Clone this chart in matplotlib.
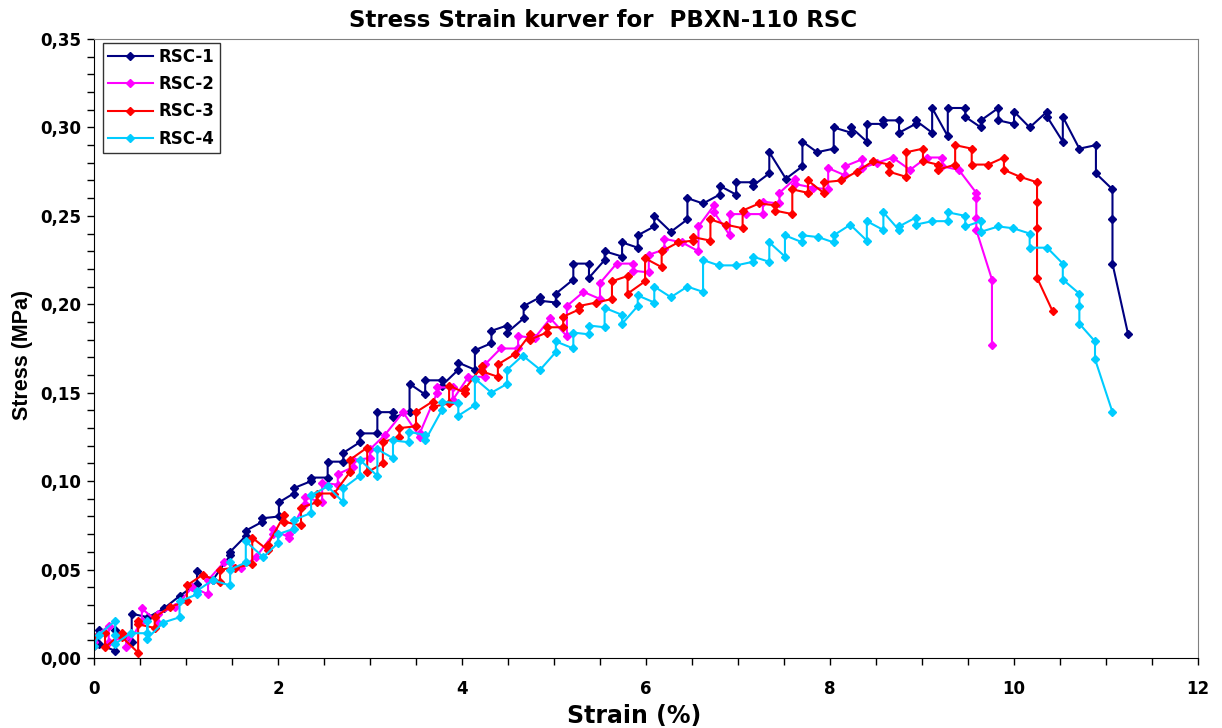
import matplotlib
matplotlib.use("Agg")
import matplotlib.pyplot as plt
from matplotlib.ticker import FuncFormatter, MultipleLocator

plt.rcParams["font.family"] = ["DejaVu Sans"]
plt.rcParams["font.weight"] = "bold"

# RSC-1
rsc1_strain = [0.0, 0.05, 0.05, 0.23, 0.23, 0.41, 0.41, 0.59, 0.76, 0.93, 1.12, 1.12, 1.29, 1.48, 1.48,
               1.65, 1.65, 1.83, 1.83, 2.01, 2.01, 2.17, 2.17, 2.36, 2.36, 2.54, 2.54, 2.71, 2.71, 2.89,
               2.89, 3.08, 3.08, 3.25, 3.25, 3.43, 3.43, 3.60, 3.60, 3.78, 3.78, 3.96, 3.96, 4.14, 4.14,
               4.32, 4.32, 4.49, 4.49, 4.67, 4.67, 4.85, 4.85, 5.02, 5.02, 5.21, 5.21, 5.38, 5.38, 5.55,
               5.55, 5.74, 5.74, 5.91, 5.91, 6.09, 6.09, 6.27, 6.45, 6.45, 6.62, 6.80, 6.80, 6.98, 6.98,
               7.16, 7.16, 7.34, 7.34, 7.52, 7.70, 7.70, 7.86, 8.04, 8.04, 8.23, 8.23, 8.40, 8.40, 8.58,
               8.58, 8.75, 8.75, 8.93, 8.93, 9.11, 9.11, 9.28, 9.28, 9.47, 9.47, 9.64, 9.64, 9.83, 9.83,
               10.0, 10.0, 10.17, 10.36, 10.36, 10.53, 10.53, 10.71, 10.89, 10.89, 11.07, 11.07, 11.07, 11.24]
rsc1_stress = [0.009, 0.016, 0.008, 0.004, 0.016, 0.009, 0.025, 0.023, 0.028, 0.035, 0.042, 0.049, 0.044, 0.058, 0.060,
               0.069, 0.072, 0.077, 0.079, 0.080, 0.088, 0.093, 0.096, 0.100, 0.102, 0.102, 0.111, 0.111, 0.116, 0.122,
               0.127, 0.127, 0.139, 0.139, 0.136, 0.139, 0.155, 0.149, 0.157, 0.157, 0.154, 0.163, 0.167, 0.163, 0.174,
               0.178, 0.185, 0.188, 0.184, 0.192, 0.199, 0.204, 0.202, 0.201, 0.206, 0.214, 0.223, 0.223, 0.215, 0.225,
               0.230, 0.227, 0.235, 0.232, 0.239, 0.244, 0.250, 0.241, 0.248, 0.260, 0.257, 0.262, 0.267, 0.262, 0.269,
               0.269, 0.267, 0.274, 0.286, 0.271, 0.278, 0.292, 0.286, 0.288, 0.300, 0.297, 0.300, 0.292, 0.302, 0.302,
               0.304, 0.304, 0.297, 0.302, 0.304, 0.297, 0.311, 0.295, 0.311, 0.311, 0.306, 0.300, 0.304, 0.311, 0.304,
               0.302, 0.309, 0.300, 0.309, 0.306, 0.292, 0.306, 0.288, 0.290, 0.274, 0.265, 0.248, 0.223, 0.183]

# RSC-2
rsc2_strain = [0.0, 0.0, 0.16, 0.16, 0.35, 0.35, 0.52, 0.52, 0.70, 0.70, 0.88, 1.07, 1.24, 1.24, 1.41,
               1.60, 1.76, 1.95, 1.95, 2.12, 2.12, 2.29, 2.29, 2.48, 2.48, 2.65, 2.65, 2.82, 2.82, 3.0,
               3.0, 3.16, 3.36, 3.54, 3.54, 3.73, 3.73, 3.90, 3.90, 4.07, 4.25, 4.25, 4.42, 4.61, 4.61,
               4.79, 4.96, 5.14, 5.14, 5.32, 5.50, 5.50, 5.68, 5.86, 5.86, 6.03, 6.03, 6.20, 6.20, 6.39,
               6.57, 6.57, 6.74, 6.74, 6.91, 6.91, 7.09, 7.27, 7.27, 7.45, 7.45, 7.62, 7.62, 7.81, 7.98,
               7.98, 8.16, 8.16, 8.35, 8.35, 8.51, 8.68, 8.87, 9.05, 9.22, 9.22, 9.40, 9.59, 9.59, 9.59,
               9.59, 9.76, 9.76]
rsc2_stress = [0.009, 0.012, 0.018, 0.009, 0.012, 0.006, 0.021, 0.028, 0.020, 0.025, 0.029, 0.040, 0.036, 0.044, 0.054,
               0.051, 0.057, 0.070, 0.073, 0.068, 0.070, 0.087, 0.091, 0.088, 0.099, 0.098, 0.104, 0.108, 0.112, 0.113,
               0.118, 0.126, 0.139, 0.125, 0.127, 0.150, 0.153, 0.153, 0.146, 0.159, 0.159, 0.166, 0.175, 0.175, 0.182,
               0.181, 0.192, 0.182, 0.199, 0.207, 0.203, 0.212, 0.223, 0.223, 0.219, 0.218, 0.228, 0.231, 0.237, 0.235,
               0.230, 0.244, 0.256, 0.252, 0.239, 0.251, 0.251, 0.251, 0.258, 0.257, 0.263, 0.271, 0.268, 0.266, 0.265,
               0.277, 0.273, 0.278, 0.282, 0.277, 0.280, 0.283, 0.276, 0.283, 0.283, 0.278, 0.276, 0.263, 0.260, 0.249,
               0.242, 0.214, 0.177]

# RSC-3
rsc3_strain = [0.0, 0.0, 0.12, 0.12, 0.30, 0.30, 0.48, 0.48, 0.48, 0.66, 0.66, 0.83, 1.01, 1.01, 1.18,
               1.37, 1.37, 1.53, 1.72, 1.72, 1.89, 1.89, 2.07, 2.07, 2.25, 2.25, 2.42, 2.42, 2.61, 2.78,
               2.78, 2.97, 2.97, 3.14, 3.14, 3.32, 3.32, 3.50, 3.50, 3.68, 3.68, 3.86, 3.86, 4.03, 4.03,
               4.22, 4.22, 4.39, 4.39, 4.58, 4.74, 4.74, 4.92, 4.92, 5.10, 5.10, 5.27, 5.27, 5.46, 5.63,
               5.63, 5.80, 5.80, 5.99, 5.99, 6.17, 6.17, 6.35, 6.51, 6.51, 6.70, 6.70, 6.87, 7.05, 7.05,
               7.23, 7.40, 7.40, 7.59, 7.59, 7.76, 7.76, 7.93, 7.93, 8.12, 8.29, 8.47, 8.64, 8.64, 8.83,
               8.83, 9.01, 9.01, 9.17, 9.17, 9.36, 9.36, 9.54, 9.54, 9.72, 9.89, 9.89, 10.07, 10.25, 10.25,
               10.25, 10.25, 10.42]
rsc3_stress = [0.007, 0.012, 0.014, 0.006, 0.014, 0.012, 0.003, 0.021, 0.019, 0.017, 0.023, 0.029, 0.032, 0.041, 0.047,
               0.043, 0.050, 0.051, 0.053, 0.068, 0.061, 0.064, 0.081, 0.077, 0.075, 0.085, 0.088, 0.093, 0.093, 0.105,
               0.112, 0.119, 0.105, 0.110, 0.122, 0.125, 0.130, 0.131, 0.139, 0.145, 0.142, 0.144, 0.154, 0.150, 0.152,
               0.165, 0.162, 0.159, 0.166, 0.172, 0.183, 0.180, 0.184, 0.187, 0.187, 0.193, 0.197, 0.199, 0.201, 0.203,
               0.213, 0.216, 0.206, 0.213, 0.226, 0.221, 0.230, 0.235, 0.236, 0.238, 0.236, 0.248, 0.245, 0.243, 0.253,
               0.257, 0.256, 0.253, 0.251, 0.265, 0.263, 0.270, 0.263, 0.269, 0.270, 0.275, 0.281, 0.279, 0.275, 0.272,
               0.286, 0.288, 0.281, 0.279, 0.276, 0.279, 0.290, 0.288, 0.279, 0.279, 0.283, 0.276, 0.272, 0.269, 0.258,
               0.243, 0.215, 0.196]

# RSC-4
rsc4_strain = [0.0, 0.05, 0.23, 0.23, 0.23, 0.40, 0.58, 0.58, 0.58, 0.75, 0.93, 0.93, 1.12, 1.12, 1.29,
               1.48, 1.48, 1.48, 1.65, 1.65, 1.84, 2.00, 2.00, 2.17, 2.17, 2.36, 2.36, 2.54, 2.71, 2.71,
               2.89, 2.89, 3.08, 3.08, 3.25, 3.25, 3.42, 3.42, 3.60, 3.60, 3.78, 3.78, 3.96, 3.96, 4.14,
               4.14, 4.32, 4.49, 4.49, 4.66, 4.85, 5.02, 5.02, 5.21, 5.21, 5.38, 5.38, 5.55, 5.55, 5.74,
               5.74, 5.91, 5.91, 6.09, 6.09, 6.27, 6.45, 6.62, 6.62, 6.79, 6.98, 7.16, 7.16, 7.34, 7.34,
               7.51, 7.51, 7.70, 7.70, 7.87, 8.04, 8.04, 8.22, 8.40, 8.40, 8.58, 8.58, 8.75, 8.75, 8.93,
               8.93, 9.11, 9.28, 9.28, 9.47, 9.47, 9.64, 9.64, 9.83, 9.99, 10.17, 10.17, 10.36, 10.53, 10.53,
               10.71, 10.71, 10.71, 10.88, 10.88, 11.07]
rsc4_stress = [0.007, 0.013, 0.021, 0.013, 0.008, 0.014, 0.014, 0.021, 0.011, 0.020, 0.023, 0.032, 0.036, 0.038, 0.044,
               0.041, 0.054, 0.050, 0.054, 0.066, 0.057, 0.065, 0.070, 0.073, 0.078, 0.082, 0.092, 0.097, 0.088, 0.096,
               0.103, 0.112, 0.103, 0.118, 0.113, 0.123, 0.122, 0.128, 0.126, 0.123, 0.140, 0.145, 0.144, 0.137, 0.143,
               0.158, 0.150, 0.155, 0.163, 0.171, 0.163, 0.173, 0.179, 0.175, 0.184, 0.183, 0.188, 0.187, 0.198, 0.194,
               0.189, 0.199, 0.205, 0.201, 0.210, 0.204, 0.210, 0.207, 0.225, 0.222, 0.222, 0.224, 0.227, 0.224, 0.235,
               0.227, 0.239, 0.235, 0.239, 0.238, 0.235, 0.239, 0.245, 0.236, 0.247, 0.242, 0.252, 0.242, 0.244, 0.249,
               0.245, 0.247, 0.247, 0.252, 0.250, 0.244, 0.247, 0.241, 0.244, 0.243, 0.240, 0.232, 0.232, 0.223, 0.214,
               0.206, 0.199, 0.189, 0.179, 0.169, 0.139]

series = [
    ("RSC-1", rsc1_strain, rsc1_stress, "#000080"),
    ("RSC-2", rsc2_strain, rsc2_stress, "#FF00FF"),
    ("RSC-3", rsc3_strain, rsc3_stress, "#FF0000"),
    ("RSC-4", rsc4_strain, rsc4_stress, "#00CCFF"),
]

fig = plt.figure(figsize=(12.22, 7.28), dpi=100)
ax = fig.add_axes([0.0769, 0.0962, 0.9035, 0.8502])

for name, xs, ys, col in series:
    ax.plot(xs, ys, color=col, linewidth=1.5, marker="D", markersize=4,
            markerfacecolor=col, markeredgecolor=col, label=name)

ax.set_xlim(0, 12)
ax.set_ylim(0, 0.35)
ax.xaxis.set_major_locator(MultipleLocator(2))
ax.xaxis.set_minor_locator(MultipleLocator(0.5))
ax.yaxis.set_major_locator(MultipleLocator(0.05))
ax.yaxis.set_minor_locator(MultipleLocator(0.01))
ax.yaxis.set_major_formatter(FuncFormatter(lambda v, p: f"{v:.2f}".replace(".", ",")))
ax.tick_params(which="both", direction="out", length=5, width=1, labelsize=12)
ax.tick_params(axis="x", which="major", pad=11)
ax.tick_params(axis="y", which="major", pad=4)
for lab in ax.get_xticklabels() + ax.get_yticklabels():
    lab.set_fontweight("bold")

for s in ["top", "right"]:
    ax.spines[s].set_color("#808080")
for s in ["left", "bottom"]:
    ax.spines[s].set_color("black")

ax.set_xlabel("Strain (%)", fontsize=17, fontweight="bold")
ax.set_ylabel("Stress (MPa)", fontsize=15.5, fontweight="bold", family="Liberation Sans")
ax.xaxis.set_label_coords(0.489, -0.075)
ax.yaxis.set_label_coords(-0.055, 0.49)
fig.text(0.4935, 0.972, "Stress Strain kurver for  PBXN-110 RSC", ha="center", va="center",
         fontsize=16.5, fontweight="bold")

leg = ax.legend(loc="upper left", bbox_to_anchor=(0.008, 0.9935), borderaxespad=0, fontsize=12,
                frameon=True, fancybox=False, edgecolor="black", handlelength=2.7,
                handletextpad=0.35, borderpad=0.3, labelspacing=0.55)
leg.get_frame().set_linewidth(1)
for t in leg.get_texts():
    t.set_fontweight("bold")

fig.savefig("out.png", dpi=100)
